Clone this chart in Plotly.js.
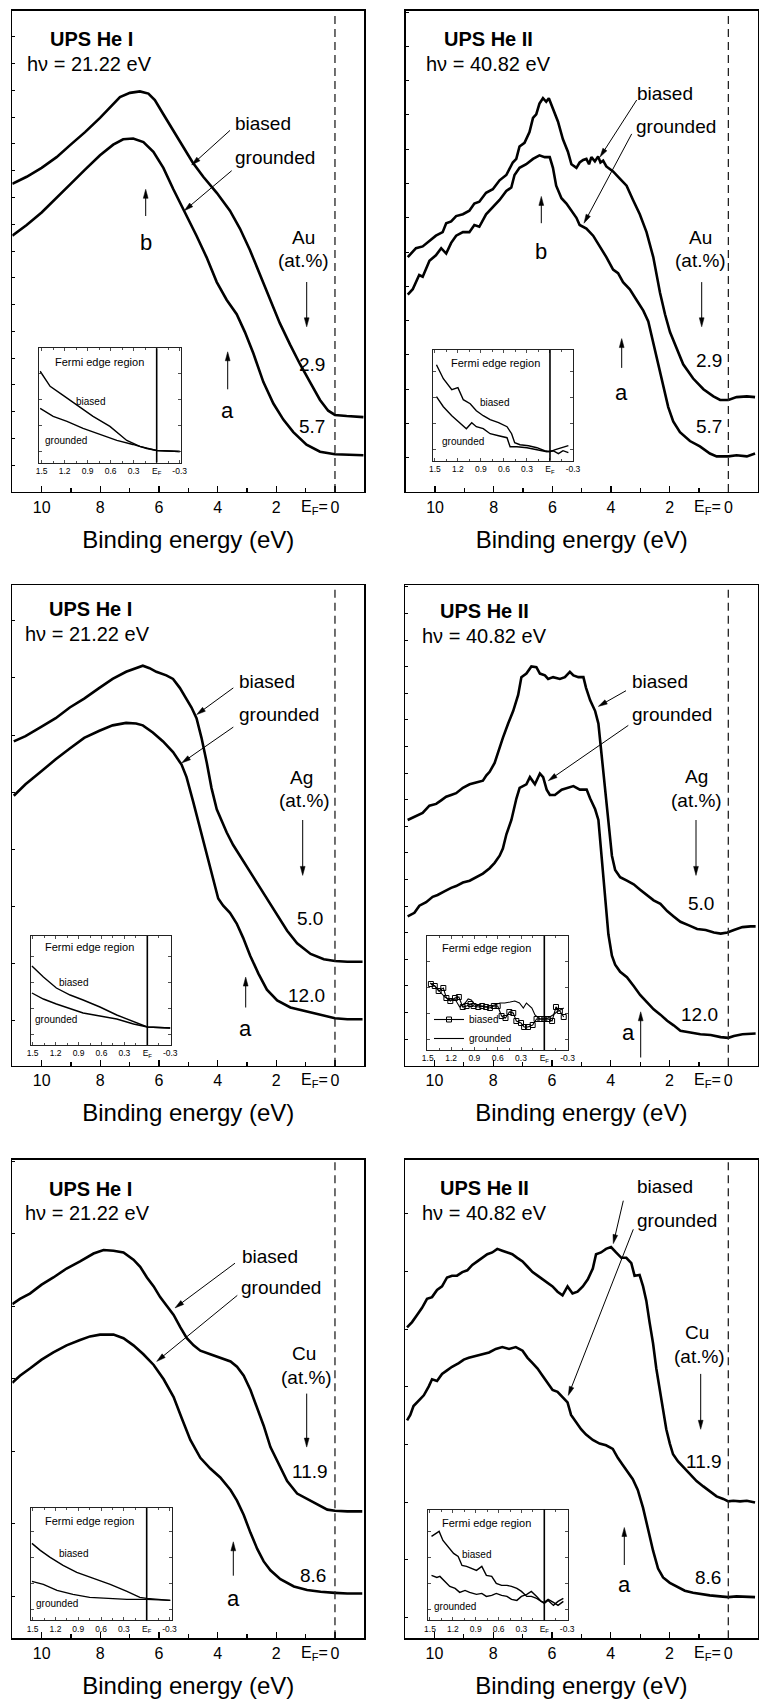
<!DOCTYPE html>
<html><head><meta charset="utf-8">
<script src="https://cdn.plot.ly/plotly-3.0.1.min.js"></script>
<style>html,body{margin:0;padding:0;background:#fff}#chart{width:759px;height:1701px}</style>
</head><body><div id="chart"></div>
<script>
// ---------------- DATA (binding energy in eV, intensity in arb. units) ----------------
// Panel 1: Au, He I
const p1BiasedX = [11.0,10.51,10.0,9.49,9.01,8.52,8.01,7.67,7.33,6.99,6.65,6.36,6.14,5.85,5.51,5.17,4.85,4.49,4.03,3.58,3.24,2.90,2.56,2.22,1.88,1.53,1.19,0.85,0.51,0.23,0,-0.40,-0.97];
const p1BiasedY = [863,883,908,938,973,1008,1048,1078,1106,1118,1122,1116,1098,1058,1013,968,923,883,838,788,738,678,608,538,473,413,358,308,258,228,216,213,210];
const p1GroundedX = [11.0,10.51,10.0,9.49,9.01,8.52,8.01,7.56,7.22,6.88,6.53,6.19,5.85,5.51,5.14,4.72,4.38,4.03,3.69,3.35,3.07,2.78,2.44,2.10,1.76,1.42,0.97,0.51,0,-0.97];
const p1GroundedY = [718,748,783,823,863,903,943,973,988,990,980,953,908,848,788,718,658,588,538,498,448,388,308,248,203,168,133,113,106,103];
// Panel 2: Au, He II
const p2BiasedX = [10.93,10.65,10.42,10.14,9.97,9.74,9.62,9.45,9.28,9.05,8.83,8.66,8.49,8.26,8.03,7.80,7.57,7.35,7.23,7.12,6.95,6.78,6.66,6.55,6.44,6.32,6.21,6.12,5.98,5.81,5.64,5.47,5.35,5.18,5.07,4.95,4.84,4.75,4.67,4.55,4.44,4.36,4.27,4.16,4.10,3.93,3.70,3.47,3.25,3.02,2.79,2.56,2.33,2.16,1.99,1.77,1.54,1.20,0.85,0.51,0.28,0,-0.28,-0.63,-0.91];
const p2BiasedY = [658,683,688,708,718,728,753,758,773,778,788,808,813,838,848,873,888,923,933,968,978,1008,1048,1058,1088,1103,1093,1103,1073,1038,988,953,918,908,923,930,933,918,938,926,940,923,928,912,908,898,878,858,818,778,728,658,558,498,448,403,358,318,288,268,258,258,266,268,266];
const p2GroundedX = [10.93,10.76,10.54,10.42,10.19,9.97,9.79,9.62,9.45,9.28,9.05,8.83,8.66,8.49,8.26,8.03,7.80,7.57,7.40,7.29,7.12,6.89,6.66,6.44,6.26,6.09,5.98,5.87,5.69,5.52,5.35,5.18,5.07,4.84,4.61,4.38,4.16,3.93,3.76,3.59,3.36,3.13,2.90,2.73,2.56,2.39,2.22,2.05,1.88,1.65,1.31,0.97,0.63,0.40,0,-0.28,-0.63,-0.91];
const p2GroundedY = [553,568,608,603,648,663,683,668,698,718,728,728,748,743,778,798,818,843,853,888,908,918,933,943,938,938,908,858,823,808,788,768,748,738,718,688,658,623,613,588,568,538,508,478,418,358,298,238,198,168,143,128,108,100,100,103,100,108];
// Panel 3: Ag, He I
const p3BiasedX = [10.95,10.55,10.03,9.52,9.04,8.55,8.03,7.58,7.12,6.78,6.55,6.32,6.09,5.75,5.52,5.29,5.06,4.89,4.72,4.55,4.37,4.21,4.03,3.86,3.69,3.47,3.23,3.01,2.78,2.55,2.32,1.98,1.63,1.29,0.83,0.38,0,-0.42,-0.94];
const p3BiasedY = [908,923,948,973,1003,1028,1058,1083,1103,1113,1120,1113,1103,1093,1083,1058,1028,1003,973,918,848,778,718,683,653,618,588,558,528,498,468,423,378,343,313,298,293,291,291];
const p3GroundedX = [10.95,10.55,10.03,9.52,9.04,8.55,8.03,7.58,7.12,6.78,6.55,6.21,5.86,5.52,5.23,5.06,4.83,4.61,4.39,4.15,3.98,3.81,3.58,3.35,3.13,2.89,2.61,2.32,1.97,1.52,0.95,0.49,0,-0.42,-0.94];
const p3GroundedY = [756,788,823,858,888,918,938,953,960,958,953,933,908,878,843,808,738,668,598,528,468,448,428,398,358,308,258,213,183,163,151,143,133,130,130];
// Panel 4: Ag, He II
const p4BiasedX = [10.91,10.63,10.40,10.17,9.94,9.77,9.60,9.43,9.26,9.03,8.80,8.58,8.35,8.23,8.12,7.95,7.84,7.67,7.49,7.32,7.15,7.04,6.87,6.70,6.53,6.41,6.24,6.13,5.96,5.73,5.56,5.39,5.27,5.10,4.93,4.84,4.70,4.53,4.42,4.31,4.19,4.08,3.96,3.85,3.68,3.45,3.22,3.00,2.77,2.54,2.31,2.08,1.86,1.63,1.34,1.06,0.77,0.49,0.26,0.03,-0.19,-0.48,-0.76,-0.93];
const p4BiasedY = [688,698,708,728,733,743,753,758,763,778,788,793,798,813,823,848,878,918,958,993,1038,1088,1098,1118,1116,1098,1093,1083,1088,1083,1088,1103,1093,1088,1088,1058,1023,993,958,868,768,668,588,548,528,518,508,493,478,463,453,433,418,403,393,383,380,373,370,373,380,388,390,390];
const p4GroundedX = [10.91,10.68,10.51,10.28,10.06,9.89,9.66,9.43,9.26,9.03,8.80,8.58,8.35,8.12,7.95,7.78,7.67,7.55,7.38,7.21,7.10,6.87,6.75,6.58,6.41,6.30,6.18,6.07,5.90,5.67,5.50,5.27,5.05,4.82,4.70,4.53,4.42,4.31,4.19,4.08,3.96,3.85,3.68,3.45,3.22,3.00,2.77,2.54,2.31,2.08,1.86,1.63,1.29,0.95,0.60,0.26,0,-0.19,-0.48,-0.76,-0.93];
const p4GroundedY = [418,428,448,458,473,478,488,498,503,513,518,528,538,553,568,588,608,648,688,748,778,788,808,788,818,808,773,758,758,773,778,783,773,773,748,718,688,588,468,368,308,283,263,248,223,198,178,158,143,126,113,98,93,88,86,80,78,83,88,88,90];
// Panel 5: Cu, He I
const p5BiasedX = [11.0,10.74,10.40,10.0,9.60,9.15,8.69,8.23,7.89,7.55,7.21,6.87,6.64,6.41,6.18,5.96,5.73,5.50,5.27,5.05,4.82,4.59,4.25,3.91,3.56,3.34,3.11,2.88,2.65,2.43,2.20,1.97,1.63,1.29,0.95,0.60,0.26,0,-0.42,-0.93];
const p5BiasedY = [935,950,965,990,1010,1035,1055,1077,1087,1085,1080,1060,1040,1010,985,955,930,905,870,840,820,805,795,785,775,760,735,695,645,595,535,495,440,405,390,375,360,357,355,355];
const p5GroundedX = [11.0,10.74,10.40,10.0,9.60,9.15,8.69,8.35,8.01,7.55,7.21,6.87,6.53,6.18,5.84,5.50,5.22,4.93,4.59,4.25,3.91,3.56,3.34,3.11,2.88,2.65,2.43,2.20,1.86,1.40,0.95,0.49,0,-0.42,-0.93];
const p5GroundedY = [715,735,755,780,800,820,835,845,850,850,840,820,795,765,725,675,615,555,505,475,450,415,385,345,295,250,215,190,165,145,135,130,127,125,125];
// Panel 6: Cu, He II
const p6BiasedX = [10.93,10.76,10.59,10.42,10.25,10.08,9.91,9.74,9.57,9.40,9.23,9.05,8.88,8.71,8.54,8.37,8.20,8.03,7.86,7.69,7.52,7.35,7.18,7.00,6.83,6.66,6.49,6.32,6.15,5.98,5.81,5.64,5.47,5.30,5.13,4.95,4.78,4.61,4.50,4.33,4.16,3.99,3.82,3.64,3.47,3.30,3.19,3.02,2.90,2.79,2.68,2.56,2.45,2.33,2.22,2.11,1.99,1.88,1.71,1.54,1.31,1.08,0.85,0.63,0.40,0.17,0,-0.17,-0.40,-0.63,-0.91];
const p6BiasedY = [870,885,905,925,950,955,975,985,1010,1015,1015,1025,1030,1045,1055,1065,1075,1080,1090,1085,1080,1075,1065,1055,1040,1025,1015,1005,995,985,970,960,985,965,970,985,1005,1035,1075,1080,1090,1095,1080,1065,1065,1050,1015,1017,985,945,885,825,755,695,635,585,545,515,495,480,460,440,425,410,397,390,383,385,383,385,380];
const p6GroundedX = [10.93,10.82,10.71,10.54,10.36,10.19,10.08,9.91,9.74,9.57,9.40,9.17,9.00,8.83,8.60,8.37,8.14,7.91,7.69,7.46,7.23,7.00,6.83,6.66,6.49,6.32,6.15,5.98,5.81,5.64,5.47,5.35,5.18,5.01,4.84,4.61,4.38,4.16,3.93,3.76,3.59,3.42,3.25,3.08,2.90,2.73,2.56,2.39,2.22,1.99,1.77,1.48,1.20,0.91,0.63,0.28,0,-0.28,-0.63,-0.91];
const p6GroundedY = [610,625,650,665,680,705,725,720,740,750,760,770,780,785,790,795,800,810,815,810,815,805,785,770,755,735,715,695,690,675,660,625,605,585,570,555,545,540,530,505,485,465,445,415,365,305,245,195,170,155,145,133,127,123,120,117,115,117,115,115];

// Insets: Fermi edge region
const i1BiasedX = [1.52,1.39,1.22,1.04,0.83,0.61,0.39,0.22,0,-0.30];
const i1BiasedY = [91,76,67,57,46,36,22,16,12,11];
const i1GroundedX = [1.52,1.35,1.17,0.96,0.74,0.52,0.31,0.13,0,-0.30];
const i1GroundedY = [54,46,41,34,28,22,18,14,12,11];
const i2BiasedX = [1.48,1.39,1.28,1.20,1.13,1.04,0.96,0.87,0.78,0.67,0.56,0.50,0.46,0.39,0.28,0.17,0.07,0,-0.07,-0.15,-0.24];
const i2BiasedY = [96,82,71,73,61,57,50,45,41,38,34,27,18,16,15,13,10,9,11,13,15];
const i2GroundedX = [1.48,1.39,1.28,1.17,1.09,1.02,0.96,0.87,0.78,0.67,0.56,0.52,0.43,0.30,0.17,0.04,-0.04,-0.11,-0.17,-0.24];
const i2GroundedY = [64,54,45,38,32,38,34,32,27,25,23,14,14,13,11,9,10,7,10,8];
const i3BiasedX = [1.51,1.36,1.19,1.01,0.84,0.62,0.40,0.18,0,-0.30];
const i3BiasedY = [79,68,57,50,45,38,30,23,18,17];
const i3GroundedX = [1.51,1.36,1.19,1.01,0.84,0.62,0.40,0.18,0,-0.30];
const i3GroundedY = [52,46,41,36,32,29,26,21,18,17];
const i4BiasedX = [1.46,1.41,1.36,1.30,1.26,1.21,1.15,1.10,1.05,1.00,0.95,0.91,0.85,0.80,0.75,0.70,0.65,0.60,0.55,0.50,0.45,0.40,0.36,0.30,0.26,0.21,0.15,0.10,0.05,0,-0.05,-0.10,-0.15,-0.20,-0.25];
const i4BiasedY = [66,64,59,62,52,49,52,53,43,44,46,44,43,44,43,42,44,44,34,32,38,37,29,27,23,23,25,31,31,31,31,29,43,39,33];
const i4GroundedX = [1.47,1.41,1.34,1.28,1.21,1.15,1.09,1.02,0.98,0.94,0.89,0.83,0.76,0.70,0.64,0.57,0.51,0.44,0.38,0.32,0.27,0.23,0.16,0.12,0.06,0,-0.05,-0.11,-0.16,-0.25];
const i4GroundedY = [67,64,58,53,50,51,43,47,51,50,45,44,43,44,45,47,47,48,49,47,42,47,42,35,31,31,32,35,38,42];
const i5BiasedX = [1.51,1.40,1.27,1.10,0.92,0.70,0.48,0.26,0.09,0,-0.31];
const i5BiasedY = [77,70,63,55,48,42,36,29,23,22,20];
const i5GroundedX = [1.51,1.36,1.18,0.97,0.75,0.48,0.26,0,-0.31];
const i5GroundedY = [39,36,30,26,23,22,21,21,20];
const i6BiasedX = [1.48,1.42,1.38,1.33,1.26,1.19,1.13,1.08,1.02,0.95,0.89,0.82,0.76,0.69,0.63,0.56,0.49,0.43,0.36,0.30,0.23,0.17,0.10,0,-0.05,-0.12,-0.18,-0.25];
const i6BiasedY = [84,87,89,80,74,67,64,55,54,52,50,54,45,44,37,35,35,34,32,29,24,24,22,17,20,15,19,22];
const i6GroundedX = [1.48,1.41,1.37,1.30,1.24,1.17,1.11,1.04,0.98,0.89,0.82,0.76,0.69,0.63,0.56,0.49,0.43,0.36,0.30,0.23,0.17,0.10,0.04,0,-0.05,-0.12,-0.18,-0.25];
const i6GroundedY = [45,43,44,39,34,32,28,30,28,26,27,24,25,27,25,24,21,20,24,26,29,24,19,18,21,18,15,19];

// Tick labels
const mainTickVals = [10,8,6,4,2,0];
const mainTickText = ['10','8','6','4','2','0'];
const mainMinorVals = [9,7,5,3,1,-1];
const insetTickVals = [1.5,1.2,0.9,0.6,0.3,0,-0.3];
const insetTickText = ['1.5','1.2','0.9','0.6','0.3','E<sub>F</sub>','-0.3'];
const insetMinorVals = [1.35,1.05,0.75,0.45,0.15,-0.15];

// Text
const sourceNames = ['UPS He I','UPS He II','UPS He I','UPS He II','UPS He I','UPS He II'];
const photonTexts = ['h\u03bd = 21.22 eV','h\u03bd = 40.82 eV','h\u03bd = 21.22 eV','h\u03bd = 40.82 eV','h\u03bd = 21.22 eV','h\u03bd = 40.82 eV'];
const elements = ['Au','Au','Ag','Ag','Cu','Cu'];
const concTop = ['2.9','2.9','5.0','5.0','11.9','11.9'];
const concBottom = ['5.7','5.7','12.0','12.0','8.6','8.6'];

// ---------------- LAYOUT ----------------
const W = 759, H = 1701;
const PX = x => x / W, PY = y => 1 - y / H;
const FONT = 'Liberation Sans, Arial, Helvetica, sans-serif';

const mainGeo = [
  {xl:12.3, xr:364.3, yt:10.7, yb:492.1, yr:1348, t0:0, dt:75},
  {xl:405.7, xr:757.7, yt:10.7, yb:492.1, yr:1348, t0:0, dt:96},
  {xl:12.3, xr:364.3, yt:585, yb:1065.7, yr:1346, t0:126, dt:160},
  {xl:405, xr:757.7, yt:585, yb:1065.7, yr:1346, t0:0, dt:74.5},
  {xl:12.3, xr:364.3, yt:1159.6, yb:1638.2, yr:1340, t0:117, dt:203},
  {xl:405, xr:757.7, yt:1159.6, yb:1638.2, yr:1340, t0:57.4, dt:161.6}
];
const insetGeo = [
  {xl:39.3, xr:181, yt:348.2, yb:462.5, xr0:[1.531,-0.317], yr:114},
  {xl:433.3, xr:573.3, yt:350, yb:460.7, xr0:[1.521,-0.304], yr:110.7},
  {xl:30.7, xr:170.7, yt:936, yb:1045, xr0:[1.526,-0.306], yr:109},
  {xl:427, xr:567.7, yt:936, yb:1050, xr0:[1.51,-0.301], yr:114},
  {xl:30.7, xr:171.7, yt:1507.9, yb:1620.4, xr0:[1.526,-0.329], yr:112.5},
  {xl:427.7, xr:567.7, yt:1509.6, yb:1620.4, xr0:[1.530,-0.307], yr:110.8}
];

const mainData = [
  [p1BiasedX,p1BiasedY,p1GroundedX,p1GroundedY],
  [p2BiasedX,p2BiasedY,p2GroundedX,p2GroundedY],
  [p3BiasedX,p3BiasedY,p3GroundedX,p3GroundedY],
  [p4BiasedX,p4BiasedY,p4GroundedX,p4GroundedY],
  [p5BiasedX,p5BiasedY,p5GroundedX,p5GroundedY],
  [p6BiasedX,p6BiasedY,p6GroundedX,p6GroundedY]
];
const insetData = [
  [i1BiasedX,i1BiasedY,i1GroundedX,i1GroundedY],
  [i2BiasedX,i2BiasedY,i2GroundedX,i2GroundedY],
  [i3BiasedX,i3BiasedY,i3GroundedX,i3GroundedY],
  [i4BiasedX,i4BiasedY,i4GroundedX,i4GroundedY],
  [i5BiasedX,i5BiasedY,i5GroundedX,i5GroundedY],
  [i6BiasedX,i6BiasedY,i6GroundedX,i6GroundedY]
];

const layout = {
  width: W, height: H,
  margin: {l:0, r:0, t:0, b:0},
  paper_bgcolor: '#fff', plot_bgcolor: 'rgba(0,0,0,0)',
  font: {family: FONT, color: '#000'},
  showlegend: true,
  legend: {x: PX(429), y: PY(1005), xanchor: 'left', yanchor: 'top',
           font: {size: 10, family: FONT, color: '#000'}, bgcolor: 'rgba(0,0,0,0)',
           itemwidth: 30, tracegroupgap: 0, borderwidth: 0},
  shapes: [], annotations: []
};
const traces = [];
const axName = (k, n) => k + (n === 1 ? '' : n);

mainGeo.forEach((g, i) => {
  const n = i + 1;
  layout[axName('xaxis', n)] = {
    domain: [PX(g.xl), PX(g.xr)], range: [11, -1], anchor: 'y' + (n === 1 ? '' : n),
    showline: true, mirror: true, linecolor: '#000', linewidth: 1.3,
    ticks: 'inside', ticklen: 6, tickwidth: 1.2, tickcolor: '#000',
    tickmode: 'array', tickvals: mainTickVals, ticktext: mainTickText,
    tickfont: {size: 16, family: FONT, color: '#000'},
    minor: {tickmode: 'array', tickvals: mainMinorVals, ticks: 'inside', ticklen: 4, tickwidth: 1.2, tickcolor: '#000'},
    showgrid: false, zeroline: false, fixedrange: true,
    title: {text: 'Binding energy (eV)', font: {size: 24, family: FONT, color: '#000'}, standoff: 16}
  };
  layout[axName('yaxis', n)] = {
    domain: [PY(g.yb), PY(g.yt)], range: [0, g.yr], anchor: 'x' + (n === 1 ? '' : n),
    showline: true, mirror: true, linecolor: '#000', linewidth: 1.3,
    ticks: 'inside', ticklen: 3, tickwidth: 1, tickcolor: '#000',
    tick0: g.t0, dtick: g.dt, showticklabels: false,
    showgrid: false, zeroline: false, fixedrange: true
  };
  const xa = 'x' + (n === 1 ? '' : n), ya = 'y' + (n === 1 ? '' : n);
  const d = mainData[i];
  traces.push({x: d[0], y: d[1], xaxis: xa, yaxis: ya, mode: 'lines', name: 'biased',
               line: {color: '#000', width: 2.6}, showlegend: false, hoverinfo: 'skip'});
  traces.push({x: d[2], y: d[3], xaxis: xa, yaxis: ya, mode: 'lines', name: 'grounded',
               line: {color: '#000', width: 2.6}, showlegend: false, hoverinfo: 'skip'});
  layout.shapes.push({type: 'line', xref: xa, yref: ya + ' domain', x0: 0, x1: 0, y0: 0, y1: 1,
                      line: {color: '#222', width: 1.3, dash: '8px,5px'}});
  const x0px = g.xl + (g.xr - g.xl) * 11 / 12;
  layout.annotations.push({xref: 'paper', yref: 'paper', x: PX(x0px - 5), y: PY(g.yb + 15),
    xanchor: 'right', yanchor: 'middle', showarrow: false, text: 'E<sub>F</sub>=',
    font: {size: 16, family: FONT, color: '#000'}});
});

insetGeo.forEach((g, i) => {
  const n = i + 7;
  const xa = 'x' + n, ya = 'y' + n;
  layout['xaxis' + n] = {
    domain: [PX(g.xl), PX(g.xr)], range: g.xr0, anchor: ya,
    showline: true, mirror: 'ticks', linecolor: '#222', linewidth: 1,
    ticks: 'inside', ticklen: 3, tickwidth: 0.8, tickcolor: '#222',
    tickmode: 'array', tickvals: insetTickVals, ticktext: insetTickText,
    tickfont: {size: 8.5, family: FONT, color: '#000'},
    minor: {tickmode: 'array', tickvals: insetMinorVals, ticks: 'inside', ticklen: 2, tickwidth: 0.8, tickcolor: '#222'},
    showgrid: false, zeroline: false, fixedrange: true
  };
  layout['yaxis' + n] = {
    domain: [PY(g.yb), PY(g.yt)], range: [0, g.yr], anchor: xa,
    showline: true, mirror: 'ticks', linecolor: '#222', linewidth: 1,
    ticks: 'inside', ticklen: 3, tickwidth: 0.8, tickcolor: '#222',
    tick0: 11, dtick: 26, showticklabels: false,
    showgrid: false, zeroline: false, fixedrange: true
  };
  const d = insetData[i];
  const isLegendInset = (i === 3);
  traces.push({x: d[0], y: d[1], xaxis: xa, yaxis: ya, name: 'biased',
    mode: isLegendInset ? 'lines+markers' : 'lines',
    marker: {symbol: 'square-open', size: 5, color: '#000', line: {width: 1}},
    line: {color: '#000', width: isLegendInset ? 1.1 : 1.4},
    showlegend: isLegendInset, hoverinfo: 'skip'});
  traces.push({x: d[2], y: d[3], xaxis: xa, yaxis: ya, name: 'grounded', mode: 'lines',
    line: {color: '#000', width: isLegendInset ? 1.1 : 1.4},
    showlegend: isLegendInset, hoverinfo: 'skip'});
  layout.shapes.push({type: 'line', xref: xa, yref: ya + ' domain', x0: 0, x1: 0, y0: 0, y1: 1,
                      line: {color: '#000', width: 1.6}});
});

// ---------------- ANNOTATIONS (positions in page pixels) ----------------
function T(text, x, y, size, anchor, bold) {
  layout.annotations.push({xref: 'paper', yref: 'paper', x: PX(x), y: PY(y),
    xanchor: anchor || 'center', yanchor: 'middle', showarrow: false,
    text: bold ? '<b>' + text + '</b>' : text,
    font: {size: size, family: FONT, color: '#000'}});
}
// arrow drawn as a thin line plus a filled slender head (page pixels)
function A(hx, hy, tx, ty) {
  const dx = hx - tx, dy = hy - ty, L = Math.hypot(dx, dy);
  const ux = dx / L, uy = dy / L, hl = 9, hw = 2.4;
  const bx = hx - ux * hl, by = hy - uy * hl;
  layout.shapes.push({type: 'line', xref: 'paper', yref: 'paper',
    x0: PX(tx), y0: PY(ty), x1: PX(bx + ux * 2), y1: PY(by + uy * 2),
    line: {color: '#000', width: 1}});
  const p1x = bx - uy * hw, p1y = by + ux * hw, p2x = bx + uy * hw, p2y = by - ux * hw;
  layout.shapes.push({type: 'path', xref: 'paper', yref: 'paper',
    path: 'M ' + PX(hx) + ',' + PY(hy) + ' L ' + PX(p1x) + ',' + PY(p1y) + ' L ' + PX(p2x) + ',' + PY(p2y) + ' Z',
    fillcolor: '#000', line: {color: '#000', width: 0.5}});
}
const labelPos = [
  {src:[48.3,38.6], hv:[25,64.3], b:[233.3,123.2], bA:[191.7,165,230,130.4], g:[233.3,157.1], gA:[184.3,210.7,231.7,170.7],
   el:[303,237.5], at:[303,260.7], dA:[306.7,326.8,306.7,282], c1:[311.7,364.3], c2:[311.7,426.8],
   peakB:[145.7,189.3,216,242.9], peakA:[227.7,351.8,389.3,410.7],
   fer:[99.2,361.8], ib:[90,401.7], ig:[65.5,440]},
  {src:[441.7,38.6], hv:[424.3,64.3], b:[635,93.6], bA:[600,157.1,636.7,100], g:[634,126.1], gA:[584,223.2,631.7,133.9],
   el:[700.3,237.5], at:[700.3,260.7], dA:[701.7,326.8,701.7,282.1], c1:[708.8,360.7], c2:[708.8,426.8],
   peakB:[541.3,196.4,223.2,251.8], peakA:[621.7,338.6,367.9,392.9],
   fer:[495.8,363.3], ib:[494.2,402.7], ig:[463.3,441]},
  {src:[46.7,608.6], hv:[22.7,634.3], b:[237.3,681.4], bA:[196.7,714.6,233.3,687.9], g:[237.3,714.6], gA:[181.7,762.9,233.3,727.1],
   el:[301.7,777.1], at:[304,800.4], dA:[302.7,875.4,302.7,820], c1:[310,918.2], c2:[306,995],
   peakB:null, peakA:[245.7,977.1,1007.5,1028.9],
   fer:[89.7,946.8], ib:[73.3,982.5], ig:[56,1019.3]},
  {src:[438.3,611.1], hv:[420,636.1], b:[630,681.4], bA:[598.3,706.4,626,690.7], g:[630,714.6], gA:[548.3,780.7,628.3,725.4],
   el:[696.5,776.4], at:[696.7,800.4], dA:[696,875.4,696,820], c1:[701,903.9], c2:[699.3,1014.6],
   peakB:null, peakA:[640.7,1011.8,1057.5,1032.5,628.3],
   fer:[486.7,948.3], ib:null, ig:null},
  {src:[46.7,1189.3], hv:[22.7,1213.2], b:[240,1256.1], bA:[175,1307.9,235,1263.2], g:[239.3,1287.1], gA:[156.7,1361.4,237.3,1295.4],
   el:[304,1353.6], at:[306.3,1377.5], dA:[306.7,1447.1,306.7,1393.6], c1:[309.7,1471.4], c2:[313.3,1575.7],
   peakB:null, peakA:[233.3,1541.8,1575.7,1598.9],
   fer:[89.7,1521.4], ib:[73,1553.2], ig:[56.7,1603.6]},
  {src:[438.3,1188.2], hv:[420,1213.2], b:[635,1186.4], bA:[613.3,1243.6,623.3,1200.7], g:[635,1220.4], gA:[568.3,1395.4,633.3,1229.3],
   el:[697.2,1332.9], at:[699.7,1356.1], dA:[700.7,1429.3,700.7,1373.9], c1:[703.7,1461.4], c2:[707.5,1577.5],
   peakB:null, peakA:[624.3,1527.5,1565,1584.6],
   fer:[486.3,1523.3], ib:[476.8,1554], ig:[455,1606]}
];
labelPos.forEach((p, i) => {
  T(sourceNames[i], p.src[0], p.src[1], 20, 'left', true);
  T(photonTexts[i], p.hv[0], p.hv[1], 20, 'left');
  T('biased', p.b[0], p.b[1], 19, 'left');
  A(p.bA[0], p.bA[1], p.bA[2], p.bA[3]);
  T('grounded', p.g[0], p.g[1], 19, 'left');
  A(p.gA[0], p.gA[1], p.gA[2], p.gA[3]);
  T(elements[i], p.el[0], p.el[1], 19);
  T('(at.%)', p.at[0], p.at[1], 19);
  A(p.dA[0], p.dA[1], p.dA[2], p.dA[3]);
  T(concTop[i], p.c1[0], p.c1[1], 19);
  T(concBottom[i], p.c2[0], p.c2[1], 19);
  if (p.peakB) { A(p.peakB[0], p.peakB[1], p.peakB[0], p.peakB[2]); T('b', p.peakB[0], p.peakB[3], 22); }
  if (p.peakA) { A(p.peakA[0], p.peakA[1], p.peakA[0], p.peakA[2]); T('a', p.peakA.length > 4 ? p.peakA[4] : p.peakA[0], p.peakA[3], 22); }
  T('Fermi edge region', p.fer[0], p.fer[1], 11);
  if (p.ib) T('biased', p.ib[0], p.ib[1], 10);
  if (p.ig) T('grounded', p.ig[0], p.ig[1], 10);
});

Plotly.newPlot('chart', traces, layout, {staticPlot: true, displayModeBar: false});
</script></body></html>
